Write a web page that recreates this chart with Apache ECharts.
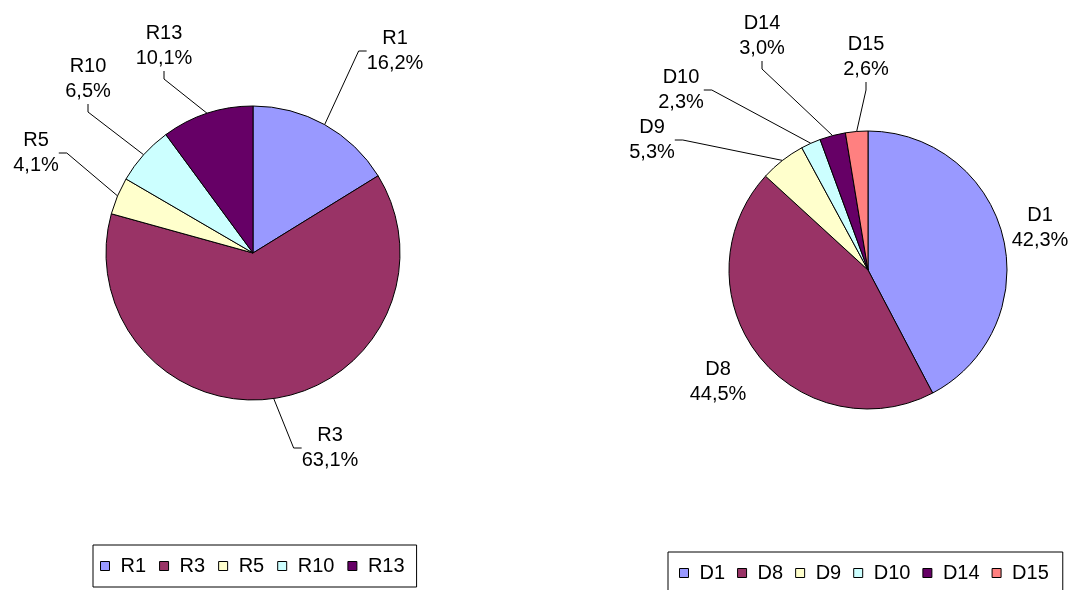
<!DOCTYPE html>
<html>
<head>
<meta charset="utf-8">
<script src="https://cdn.jsdelivr.net/npm/echarts@6/dist/echarts.min.js"></script>
<style>
  html, body { margin: 0; padding: 0; background: #fff; }
  #chart { width: 1071px; height: 590px; }
</style>
</head>
<body>
<div id="chart"></div>
<script>
// Shares per region (left pie) and per district (right pie), in percent
const regionNames = ['R1', 'R3', 'R5', 'R10', 'R13'];
const regionValues = [16.2, 63.1, 4.1, 6.5, 10.1];
const districtNames = ['D1', 'D8', 'D9', 'D10', 'D14', 'D15'];
const districtValues = [42.3, 44.5, 5.3, 2.3, 3.0, 2.6];

// Slice palette (classic office chart colours)
const palette = ['#9999FF', '#993366', '#FFFFCC', '#CCFFFF', '#660066', '#FF8080'];

// Label anchor points (centre of each two-line label), in pixels
const regionLabelPos = [[395, 51], [330, 448], [36, 153], [88, 79], [164, 46]];
const districtLabelPos = [[1040, 228], [718, 382], [652, 140], [681, 90], [762, 36], [866, 57]];
// Labels sitting right next to their slice carry no leader line
const districtNoLine = ['D1', 'D8'];

const FONT = 'Liberation Sans, Arial, sans-serif';
const fmt = p => p.name + '\n' + p.value.toFixed(1).replace('.', ',') + '%';

function buildData(names, values, noLine) {
  return names.map((n, i) => ({
    name: n,
    value: values[i],
    itemStyle: { color: palette[i] },
    labelLine: { show: !(noLine || []).includes(n) }
  }));
}

function pieSeries(names, values, center, radius, labelPos, noLine) {
  return {
    type: 'pie',
    center: center,
    radius: radius,
    startAngle: 90,
    clockwise: true,
    animation: false,
    silent: true,
    itemStyle: { borderColor: '#000', borderWidth: 1 },
    label: {
      show: true,
      formatter: fmt,
      color: '#000',
      fontFamily: FONT,
      fontSize: 20,
      lineHeight: 25,
      align: 'center',
      overflow: 'none'
    },
    labelLine: {
      show: true,
      length: 10,
      length2: 8,
      smooth: false,
      lineStyle: { color: '#000', width: 1 }
    },
    labelLayout: function (p) {
      const pos = labelPos[p.dataIndex];
      return { x: pos[0], y: pos[1], align: 'center', verticalAlign: 'middle' };
    },
    data: buildData(names, values, noLine)
  };
}

function legendFor(names, left, top, padding, gap) {
  return {
    data: names,
    left: left,
    top: top,
    orient: 'horizontal',
    icon: 'rect',
    itemWidth: 9,
    itemHeight: 9,
    itemGap: gap,
    padding: padding,
    borderColor: '#000',
    borderWidth: 1,
    backgroundColor: '#fff',
    itemStyle: { borderColor: '#000', borderWidth: 1 },
    textStyle: { color: '#000', fontFamily: FONT, fontSize: 20, padding: [0, 0, 0, 6] },
    selectedMode: false
  };
}

const chart = echarts.init(document.getElementById('chart'), null, { renderer: 'canvas' });
chart.setOption({
  backgroundColor: '#fff',
  legend: [
    legendFor(regionNames, 93, 545, [11, 12, 11, 7], 13),
    legendFor(districtNames, 668, 552, [11, 14, 14, 11], 12)
  ],
  series: [
    pieSeries(regionNames, regionValues, [253, 253], 147, regionLabelPos),
    pieSeries(districtNames, districtValues, [868, 270], 139, districtLabelPos, districtNoLine)
  ]
});
</script>
</body>
</html>
